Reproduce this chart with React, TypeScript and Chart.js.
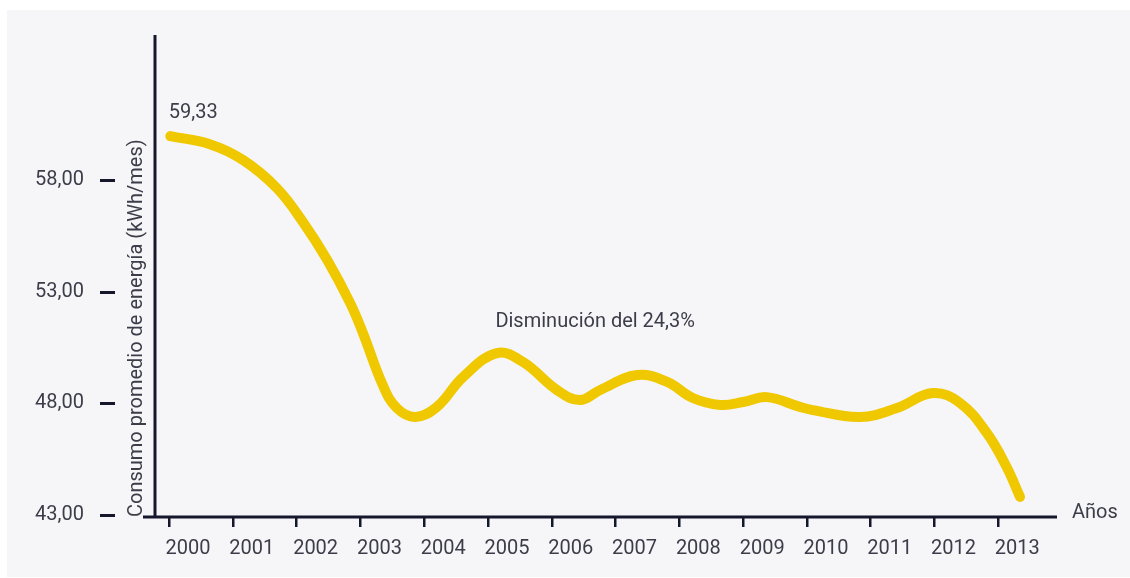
import React, { useEffect, useRef } from "react";
import { Chart, registerables } from "chart.js";

Chart.register(...registerables);

// ---- Data ----
const tickYears = [2000, 2001, 2002, 2003, 2004, 2005, 2006, 2007, 2008, 2009, 2010, 2011, 2012, 2013];
const yTickValues = [43, 48, 53, 58];

// The drawn smooth curve, sampled along its course (x in years, y in kWh/mes)
const curveYears = [
  2000.02, 2000.64, 2001.16, 2001.69, 2002.1, 2002.48, 2002.84, 2003.04, 2003.35, 2003.57,
  2003.86, 2004.2, 2004.61, 2005.14, 2005.55, 2006.08, 2006.44, 2006.76, 2007.34, 2007.81,
  2008.21, 2008.64, 2009.0, 2009.37, 2009.89, 2010.09, 2010.83, 2011.41, 2011.97, 2012.4,
  2012.82, 2013.13, 2013.34,
];
const curveValues = [
  59.97, 59.61, 58.9, 57.64, 56.12, 54.42, 52.49, 51.15, 48.82, 47.79,
  47.39, 47.84, 49.18, 50.25, 49.85, 48.6, 48.15, 48.6, 49.27, 48.96,
  48.24, 47.93, 48.06, 48.28, 47.84, 47.7, 47.39, 47.79, 48.46, 48.02,
  46.67, 45.15, 43.81,
];

const startLabel = "59,33";
const startLabelAt = { x: 2000.38, y: 61.0 };
const noteLabel = "Disminución del 24,3%";
const noteLabelAt = { x: 2006.68, y: 51.64 };
const xAxisLabel = "Años";
const yAxisTitle = "Consumo promedio de energía (kWh/mes)";

const W = 1130;
const H = 578;
const FONT = 'Roboto, "Open Sans", sans-serif';
const TEXT = "#3d3d4a";
const AXIS = "#16162c";
const LINE = "#efc800";

export default function App() {
  const ref = useRef<HTMLCanvasElement | null>(null);

  useEffect(() => {
    if (!ref.current) return;

    const bgPlugin = {
      id: "bg",
      beforeDraw(chart: any) {
        const c = chart.ctx;
        c.save();
        c.fillStyle = "#ffffff";
        c.fillRect(0, 0, W, H);
        c.fillStyle = "#f6f6f8";
        c.fillRect(7, 10, W - 7, H - 11);
        c.restore();
      },
    };

    const decoPlugin = {
      id: "deco",
      afterDraw(chart: any) {
        const { ctx, chartArea: a, scales } = chart;
        const xs = scales.x;
        const ys = scales.y;
        ctx.save();
        ctx.strokeStyle = AXIS;
        ctx.lineWidth = 3;
        ctx.lineCap = "butt";
        ctx.beginPath();
        ctx.moveTo(a.left, a.top);
        ctx.lineTo(a.left, a.bottom);
        ctx.stroke();
        ctx.beginPath();
        ctx.moveTo(a.left - 12, a.bottom);
        ctx.lineTo(a.right, a.bottom);
        ctx.stroke();

        // y tick dashes, detached from the axis
        yTickValues.forEach((v) => {
          const py = Math.round(ys.getPixelForValue(v)) + 0.5;
          ctx.beginPath();
          ctx.moveTo(a.left - 55, py);
          ctx.lineTo(a.left - 40, py);
          ctx.stroke();
        });

        ctx.fillStyle = TEXT;
        ctx.font = `20px ${FONT}`;
        ctx.textAlign = "center";
        ctx.textBaseline = "middle";
        ctx.fillText(startLabel, xs.getPixelForValue(startLabelAt.x), ys.getPixelForValue(startLabelAt.y));
        ctx.fillText(noteLabel, xs.getPixelForValue(noteLabelAt.x), ys.getPixelForValue(noteLabelAt.y));
        ctx.textAlign = "left";
        ctx.fillText(xAxisLabel, a.right + 15, a.bottom - 4);
        ctx.restore();
      },
    };

    const chart = new Chart(ref.current, {
      type: "line",
      data: {
        datasets: [
          {
            data: curveYears.map((x, i) => ({ x, y: curveValues[i] })),
            borderColor: LINE,
            borderWidth: 10,
            pointRadius: 0,
            tension: 0.4,
            borderCapStyle: "round",
            borderJoinStyle: "round",
            fill: false,
            clip: false as any,
          },
        ],
      },
      options: {
        responsive: false,
        animation: false,
        layout: { padding: { top: 35, right: 73, left: 35, bottom: 0 } },
        plugins: {
          legend: { display: false },
          tooltip: { enabled: false },
        },
        scales: {
          x: {
            type: "linear",
            min: 1999.78,
            max: 2013.92,
            afterBuildTicks: (s: any) => {
              s.ticks = tickYears.map((v) => ({ value: v }));
            },
            afterFit: (s: any) => {
              s.height = 61;
            },
            grid: {
              display: true,
              drawOnChartArea: false,
              drawTicks: true,
              tickLength: 10,
              color: AXIS,
              lineWidth: 2.5,
            },
            border: { display: false },
            ticks: {
              labelOffset: 19,
              padding: 10,
              autoSkip: false,
              maxRotation: 0,
              color: TEXT,
              font: { family: FONT, size: 20 },
              callback: (v: any) => String(v),
            },
          },
          y: {
            type: "linear",
            min: 42.91,
            max: 64.5,
            afterBuildTicks: (s: any) => {
              s.ticks = yTickValues.map((v) => ({ value: v }));
            },
            afterFit: (s: any) => {
              s.width = 120;
            },
            grid: { display: false },
            border: { display: false },
            ticks: {
              padding: 0,
              crossAlign: "far",
              color: TEXT,
              font: { family: FONT, size: 20 },
              callback: (v: any) => Number(v).toFixed(2).replace(".", ","),
            },
            title: {
              display: true,
              text: yAxisTitle,
              align: "start",
              padding: { top: 90, bottom: 0 },
              color: TEXT,
              font: { family: FONT, size: 20 },
            },
          },
        },
      },
      plugins: [bgPlugin, decoPlugin],
    } as any);

    return () => chart.destroy();
  }, []);

  return (
    <div style={{ position: "fixed", left: 0, top: 0, width: W, height: H }}>
      <canvas ref={ref} width={W} height={H} style={{ width: W, height: H, display: "block" }} />
    </div>
  );
}
